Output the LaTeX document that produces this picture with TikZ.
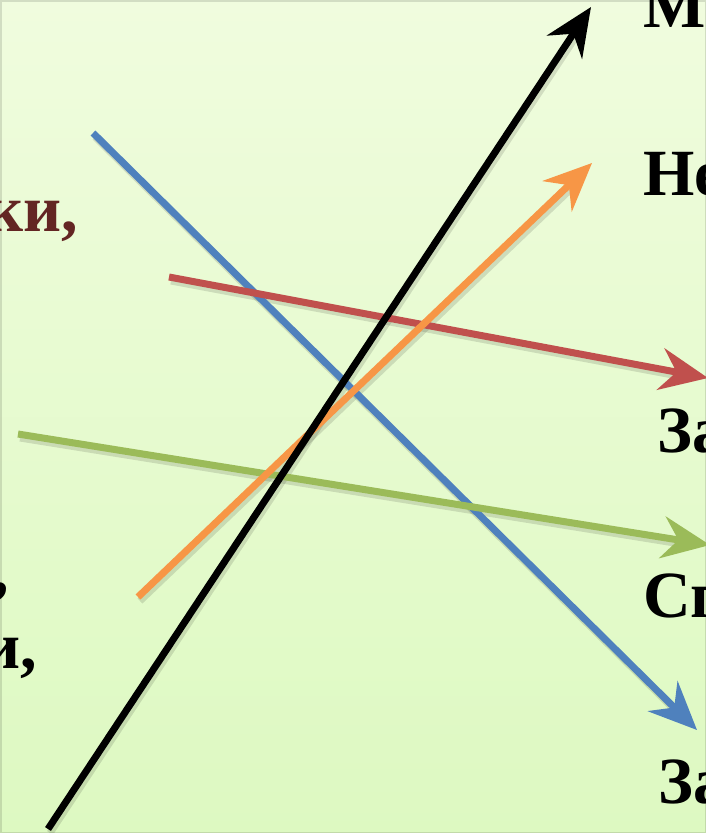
\documentclass[tikz,border=0pt]{standalone}
\usepackage{fontspec}
\setmainfont{Liberation Serif}
\usepackage{xcolor}
\usetikzlibrary{arrows.meta,positioning}
\definecolor{arrblue}{RGB}{79,129,189}
\definecolor{arrred}{RGB}{192,80,77}
\definecolor{arrgreen}{RGB}{155,187,89}
\definecolor{arrorange}{RGB}{247,150,70}
\definecolor{wordred}{RGB}{99,37,35}
\definecolor{bgtop}{RGB}{240,252,222}
\definecolor{bgbottom}{RGB}{221,249,193}

\begin{document}
\begin{tikzpicture}[
x=1pt, y=-1pt,
arrow/.style={-{Stealth[length=48pt, width=42pt, inset=16pt]}, line width=7pt},
shade/.style={line width=7pt, draw=black, draw opacity=0.12, shorten >=30pt},
word/.style={font=\fontsize{66}{70}\selectfont\bfseries, inner sep=0pt}
]
\useasboundingbox (0,0) rectangle (706,833);
\shade[top color=bgtop, bottom color=bgbottom] (-2,-2) rectangle (708,835);
\clip (0,0) rectangle (706,833);

\coordinate (blackA) at (48,829);
\coordinate (blackB) at (591,7);
\coordinate (orangeA) at (138,597);
\coordinate (orangeB) at (592,163);
\coordinate (blueA) at (93,133);
\coordinate (blueB) at (697,730);
\coordinate (redA) at (169,277);
\coordinate (redB) at (708,378);
\coordinate (greenA) at (18,434);
\coordinate (greenB) at (710,545);

\draw[shade] ([shift={(2,4)}]blueA) -- ([shift={(2,4)}]blueB);
\draw[shade] ([shift={(2,4)}]redA) -- ([shift={(2,4)}]redB);
\draw[shade] ([shift={(2,4)}]greenA) -- ([shift={(2,4)}]greenB);
\draw[shade] ([shift={(2,4)}]orangeA) -- ([shift={(2,4)}]orangeB);
\draw[shade] ([shift={(2,4)}]blackA) -- ([shift={(2,4)}]blackB);

\draw[arrow, draw=arrblue, fill=arrblue] (blueA) -- (blueB);
\draw[arrow, draw=arrred, fill=arrred] (redA) -- (redB);
\draw[arrow, draw=arrgreen, fill=arrgreen] (greenA) -- (greenB);
\draw[arrow, draw=arrorange, fill=arrorange] (orangeA) -- (orangeB);
\draw[arrow, draw=black, fill=black] (blackA) -- (blackB);

\node[word, text=wordred, anchor=base east] (ki) at (78,231) {ки,};
\node[word, anchor=base east] (comma) at (9,592) {,};
\node[word, anchor=base east] (iword) at (37,668) {и,};

\node[word, anchor=base west] (mo) at (643,27) {Мо};
\node[word, anchor=base west] (ne) at (643,195) {Не};
\node[word, anchor=base west] (zaA) at (657,452) {За};
\node[word, anchor=base west] (sp) at (643,617) {Сп};
\node[word, anchor=base west] (zaB) at (658,803) {За};
\end{tikzpicture}
\end{document}
